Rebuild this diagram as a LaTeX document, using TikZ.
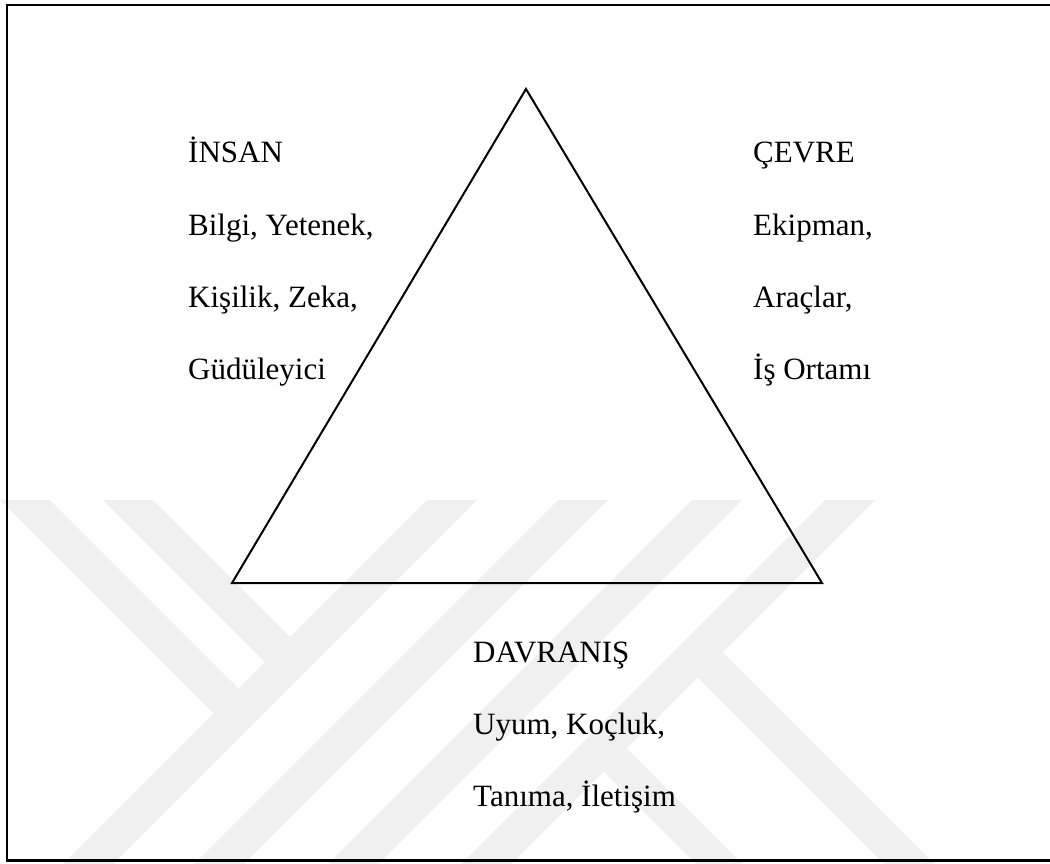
\documentclass[tikz,border=0pt]{standalone}
\usepackage{fontspec}
\setmainfont{Liberation Serif}
\definecolor{wmgray}{gray}{0.94}
\begin{document}
\begin{tikzpicture}[x=1pt, y=-1pt,
    lbl/.style={anchor=base west, inner sep=0pt, font=\fontsize{31}{31}\selectfont},
    tri/.style={draw=black, line width=2pt, line join=miter},
    frame/.style={draw=black, line width=2.5pt},
    band/.style={fill=wmgray}
]
\clip (0,0) rectangle (1050,864);
% faint watermark behind the figure
\begin{scope}
\clip (0,500) rectangle (1050,864);
\foreach \c in {927,1058,1192,1325}
    \fill[band] (\c-500,500) -- (\c-450,500) -- (\c-820,870) -- (\c-870,870) -- cycle;
\fill[band] (0,500) -- (50,500) -- (238.5,688.5) -- (213.5,713.5) -- cycle;
\fill[band] (103,500) -- (153,500) -- (290,637) -- (265,662) -- cycle;
\fill[band] (697.5,677.5) -- (722.5,652.5) -- (940,870) -- (890,870) -- cycle;
\fill[band] (603.5,771.5) -- (626.5,748.5) -- (748,870) -- (702,870) -- cycle;
\end{scope}
% outer frame (right side runs off the page)
\draw[frame] (7,5) rectangle (1070,860.5);
% triangle
\coordinate (apex) at (526,89);
\coordinate (left) at (232,583);
\coordinate (right) at (822,583);
\draw[tri] (apex) -- (left) -- (right) -- cycle;
% labels
\node[lbl] (insan) at (188,163) {İNSAN};
\node[lbl] (insanA) at (188,235) {Bilgi, Yetenek,};
\node[lbl] (insanB) at (188,307) {Kişilik, Zeka,};
\node[lbl] (insanC) at (188,379) {Güdüleyici};
\node[lbl] (cevre) at (753,163) {ÇEVRE};
\node[lbl] (cevreA) at (753,235) {Ekipman,};
\node[lbl] (cevreB) at (753,307) {Araçlar,};
\node[lbl] (cevreC) at (753,379) {İş Ortamı};
\node[lbl] (davranis) at (473,662) {DAVRANIŞ};
\node[lbl] (davranisA) at (473,734) {Uyum, Koçluk,};
\node[lbl] (davranisB) at (473,806) {Tanıma, İletişim};
\end{tikzpicture}
\end{document}
